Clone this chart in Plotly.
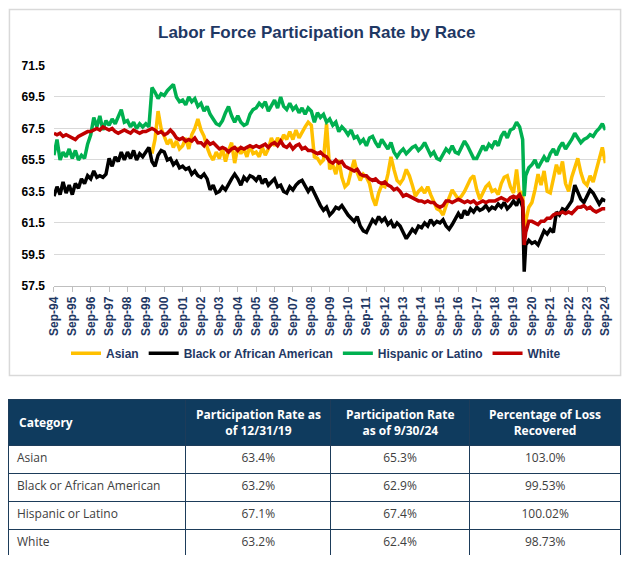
import plotly.graph_objects as go
import pandas as pd

TITLE = "Labor Force Participation Rate by Race"
SERIES_NAMES = ["Asian", "Black or African American", "Hispanic or Latino", "White"]
SERIES_COLORS = ["#FFC000", "#000000", "#00B050", "#C00000"]

# Observation dates: every two months Sep-94 ... Sep-24, plus Apr-20
DATES = sorted(list(pd.date_range("1994-09-01", "2024-09-01", freq="2MS"))
               + [pd.Timestamp("2020-04-01")])

TICK_YEARS = list(range(1994, 2025))
TICK_LABELS = ["Sep-94", "Sep-95", "Sep-96", "Sep-97", "Sep-98", "Sep-99", "Sep-00",
               "Sep-01", "Sep-02", "Sep-03", "Sep-04", "Sep-05", "Sep-06", "Sep-07",
               "Sep-08", "Sep-09", "Sep-10", "Sep-11", "Sep-12", "Sep-13", "Sep-14",
               "Sep-15", "Sep-16", "Sep-17", "Sep-18", "Sep-19", "Sep-20", "Sep-21",
               "Sep-22", "Sep-23", "Sep-24"]

ASIAN = [None] * 32 + [
    65.9, 66.8, 68.6, 67.5,
    67.0, 66.5, 66.8, 66.3, 66.7, 66.2,
    66.4, 66.9, 66.2, 67.1, 67.5, 68.1,
    67.4, 67.0, 66.3, 65.8, 65.5, 66.0,
    65.6, 66.2, 65.4, 66.1, 66.6, 65.3,
    66.3, 65.9, 66.2, 65.7, 66.4, 65.9,
    66.0, 65.7, 66.3, 65.8, 66.2, 66.9,
    66.4, 66.9, 66.6, 67.1, 66.8, 67.3,
    66.8, 67.4, 66.9, 67.3, 67.6, 67.9,
    67.7, 65.7, 65.6, 65.3, 65.5, 67.8,
    64.9, 65.2, 64.6, 65.5, 64.4, 63.8,
    64.0, 64.8, 65.5, 64.7, 64.2, 64.6,
    64.4, 64.0, 63.1, 62.6, 63.4, 63.9,
    63.8, 64.6, 65.7, 64.9, 64.2, 64.0,
    64.3, 64.9, 64.5, 63.9, 63.2, 63.5,
    63.7, 63.4, 63.8, 63.3, 62.8, 62.4,
    62.3, 62.0, 62.6, 63.1, 63.6, 63.3,
    63.0, 63.2, 63.5, 63.9, 64.3, 64.5,
    63.6, 63.0, 63.4, 63.8, 64.0, 63.5,
    63.6, 63.3, 64.0, 64.4, 64.5, 63.8,
    63.4, 64.9, 63.2, 63.5, 60.8, 61.6, 62.5,
    62.8, 63.6, 64.6, 63.9, 64.8, 63.5,
    63.4, 64.3, 65.2, 64.6, 65.4, 64.0,
    63.5, 64.4, 65.0, 65.6, 64.7, 64.1,
    63.9, 64.5, 64.1, 64.8, 65.6, 66.3,
    65.3,
]

BLACK = [
    63.2, 63.8, 63.3, 64.1, 63.4, 63.9,
    63.3, 64.0, 63.7, 64.3, 64.0, 64.5,
    64.3, 64.8, 64.4, 64.5, 64.4, 64.6,
    65.6, 65.1, 65.7, 65.4, 66.0, 65.5,
    66.0, 65.6, 66.1, 65.5, 65.9, 65.7,
    66.0, 66.3, 65.4, 65.1, 65.8, 66.1,
    66.0, 65.5, 65.6, 65.2, 65.4, 65.0,
    65.1, 64.9, 65.0, 64.6, 64.8, 64.5,
    64.4, 64.6, 64.3, 63.6, 63.9, 63.4,
    63.5, 63.8, 63.6, 64.0, 64.3, 64.6,
    64.3, 63.9, 64.4, 64.2, 64.5, 64.4,
    64.2, 64.5, 64.0, 64.3, 63.9, 64.1,
    64.3, 63.8, 63.9, 63.5, 63.4, 63.8,
    63.6, 63.9, 64.1, 64.2, 63.9, 63.5,
    63.8, 63.4, 62.9, 62.6, 62.3, 62.5,
    62.0, 62.2, 62.5, 62.4, 62.6, 62.3,
    62.0, 61.8, 61.6, 61.9, 61.3, 61.0,
    60.9, 61.3, 61.7, 61.5, 61.9, 61.6,
    61.8, 61.4, 61.6, 61.2, 61.5, 61.3,
    60.9, 60.5, 60.8, 61.1, 60.9, 61.3,
    61.2, 61.5, 61.3, 61.7, 61.4, 61.6,
    61.5, 61.7, 61.3, 61.1, 61.4, 61.8,
    62.1, 61.8, 62.3, 62.0, 62.4, 62.2,
    62.5, 62.3, 62.4, 62.6, 62.3, 62.5,
    62.4, 62.7, 62.5, 62.8, 62.4, 62.6,
    62.9, 62.6, 63.1, 62.5, 58.4, 60.1, 60.4,
    60.2, 60.3, 60.1, 60.5, 61.0, 60.8,
    61.1, 60.9, 62.2, 62.0, 62.4, 62.3,
    62.6, 62.9, 63.9, 63.4, 63.0, 62.8,
    63.2, 63.6, 63.4, 63.1, 62.7, 63.0,
    62.9,
]

HISPANIC = [
    65.8, 66.8, 65.5, 66.0, 65.7, 66.2,
    65.6, 66.1, 65.5, 65.8, 65.6, 66.5,
    67.1, 68.2, 67.6, 68.3, 67.4, 68.0,
    67.7, 68.1, 67.8, 68.3, 68.7, 67.9,
    68.0, 67.6, 67.9, 67.5, 67.8, 67.6,
    67.8, 67.6, 70.1, 69.8, 69.4, 69.7,
    69.6, 69.9, 70.1, 70.3, 69.5, 69.2,
    69.3, 69.0, 69.5, 69.2, 69.4, 68.9,
    69.1, 68.6, 68.9, 68.4, 68.1, 67.8,
    67.7, 68.0, 68.5, 68.9, 68.3, 67.9,
    68.3, 67.9, 67.7, 67.8, 68.4, 68.7,
    68.8, 69.1, 68.9, 69.2, 68.6, 69.0,
    69.3, 68.8, 69.5, 68.9, 68.7, 69.1,
    68.7, 68.9, 68.5, 68.8, 68.4, 68.8,
    68.6, 67.9, 68.5, 68.2, 68.4, 67.9,
    68.1, 67.7, 67.9, 67.3, 67.6, 67.4,
    67.1, 67.4, 66.9, 67.0, 66.6, 66.8,
    66.4, 66.9, 67.0, 66.6, 66.3, 66.8,
    66.5, 66.2, 66.6, 66.0, 65.7, 66.0,
    66.2, 65.9, 66.1, 66.3, 66.4, 66.1,
    66.3, 66.6, 66.2, 65.8, 66.0, 65.6,
    65.5, 65.9, 66.2, 66.0, 66.4, 66.0,
    65.9, 66.3, 66.7, 66.4, 66.0, 65.6,
    65.6, 66.0, 66.4, 66.1, 66.5, 66.3,
    66.7, 66.4, 67.0, 67.3, 66.9, 67.4,
    67.5, 67.9, 67.6, 66.8, 63.2, 64.5, 65.0,
    65.2, 65.5, 65.0, 65.4, 65.7, 65.4,
    65.9, 66.2, 65.8, 66.3, 66.6, 66.2,
    66.5, 66.8, 67.2, 66.9, 66.6, 66.8,
    66.9, 67.1, 67.0, 67.3, 67.5, 67.8,
    67.4,
]

WHITE = [
    67.2, 67.1, 67.2, 67.0, 67.1, 67.0,
    66.9, 66.8, 67.0, 67.1, 67.2, 67.3,
    67.3, 67.4, 67.5, 67.4, 67.6, 67.5,
    67.4, 67.5, 67.3, 67.2, 67.3, 67.4,
    67.3, 67.2, 67.4, 67.3, 67.2, 67.3,
    67.3, 67.4, 67.5, 67.4, 67.2, 67.3,
    67.1, 67.2, 67.4, 67.2, 66.9, 66.8,
    66.9, 66.7, 66.8, 66.7, 66.9, 66.6,
    66.6, 66.4, 66.7, 66.5, 66.6, 66.4,
    66.2, 66.3, 66.2, 66.0, 66.2, 66.3,
    66.1, 66.3, 66.2, 66.3, 66.4, 66.3,
    66.4, 66.3, 66.4, 66.5, 66.3, 66.5,
    66.6, 66.4, 66.7, 66.4, 66.3, 66.5,
    66.2, 66.4, 66.5, 66.2, 66.3, 66.1,
    66.1, 66.0, 65.9, 66.0, 65.8, 65.7,
    65.4, 65.3, 65.5, 65.3, 65.4, 65.1,
    65.0, 64.9, 64.8, 64.9, 64.6, 64.5,
    64.5, 64.3, 64.2, 64.3, 64.1, 64.0,
    64.1, 63.9, 63.8, 63.6, 63.7, 63.5,
    63.2, 63.3, 63.2, 63.1, 63.0, 62.9,
    62.9, 62.8, 62.9, 62.8, 62.8, 62.6,
    62.5, 62.6, 62.9, 62.9, 62.8, 62.9,
    63.0, 62.9, 62.8, 62.9, 62.8, 62.9,
    62.7, 62.8, 62.9, 62.8, 62.9, 62.9,
    62.9, 63.0, 63.1, 63.0, 62.9, 63.1,
    63.2, 63.1, 63.3, 62.9, 60.1, 60.9, 61.6,
    61.6, 61.5, 61.4, 61.6, 61.6, 61.8,
    61.8, 62.0, 62.1, 62.1, 62.2, 62.1,
    62.2, 62.1, 62.3, 62.5, 62.5, 62.6,
    62.4, 62.5, 62.3, 62.2, 62.3, 62.4,
    62.4,
]

SERIES = [ASIAN, BLACK, HISPANIC, WHITE]

# Table data
TABLE_HEADERS = ["Category", "Participation Rate as<br>of 12/31/19",
                 "Participation Rate<br>as of 9/30/24", "Percentage of Loss<br>Recovered"]
TABLE_CATEGORIES = ["Asian", "Black or African American", "Hispanic or Latino", "White"]
RATE_2019 = ["63.4%", "63.2%", "67.1%", "63.2%"]
RATE_2024 = ["65.3%", "62.9%", "67.4%", "62.4%"]
LOSS_RECOVERED = ["103.0%", "99.53%", "100.02%", "98.73%"]
COLUMN_WIDTHS = [181, 148, 142, 155]

W, H = 632, 563
NAVY = "#1F3864"
SANS = "Liberation Sans, Arial, sans-serif"
TABLE_FONT = "Open Sans, Noto Sans, sans-serif"
TABLE_LEFT, TABLE_RIGHT, TABLE_TOP = 2, 628, 402


def px_x(p):
    return p / W


def px_y(p):
    return 1 - p / H


fig = go.Figure()
for name, color, vals in zip(SERIES_NAMES, SERIES_COLORS, SERIES):
    fig.add_trace(go.Scatter(
        x=DATES, y=vals, mode="lines", name=name,
        line=dict(color=color, width=3.5),
        connectgaps=False,
    ))

# Header labels are drawn as annotations (so each line is centred, and
# the single-line label is vertically centred); header cells keep the fill.
fig.add_trace(go.Table(
    domain=dict(x=[px_x(TABLE_LEFT), px_x(TABLE_RIGHT)], y=[0, px_y(TABLE_TOP)]),
    columnwidth=COLUMN_WIDTHS,
    header=dict(
        values=["", "", "", ""],
        fill_color="#0F3B5E",
        line=dict(color="#1D3C5A", width=1),
        font=dict(color="white", size=12, family=TABLE_FONT),
        height=46,
    ),
    cells=dict(
        values=[TABLE_CATEGORIES, RATE_2019, RATE_2024, LOSS_RECOVERED],
        fill_color="white",
        line=dict(color="#1D3C5A", width=1),
        font=dict(color="#404040", size=12, family=TABLE_FONT),
        align=["left", "center", "center", "center"],
        height=28,
    ),
))

annotations = [dict(
    text=TITLE, xref="paper", yref="paper", x=0.5, y=px_y(26),
    xanchor="center", yanchor="middle", showarrow=False,
    font=dict(size=17, color=NAVY, family=SANS, weight="bold"),
)]
total_w = sum(COLUMN_WIDTHS)
span = TABLE_RIGHT - TABLE_LEFT
left = TABLE_LEFT
for i, (label, cw) in enumerate(zip(TABLE_HEADERS, COLUMN_WIDTHS)):
    width_px = cw / total_w * span
    if i == 0:
        ax, anchor = left + 8, "left"
    else:
        ax, anchor = left + width_px / 2, "center"
    annotations.append(dict(
        text=f"<b>{label}</b>", xref="paper", yref="paper",
        x=px_x(ax), y=px_y(426), xanchor=anchor, yanchor="middle",
        align="center", showarrow=False,
        font=dict(size=12, color="white", family=TABLE_FONT),
    ))
    left += width_px

tickvals = [f"{y}-09-01" for y in TICK_YEARS]

fig.update_layout(
    width=W, height=H,
    margin=dict(l=0, r=0, t=0, b=0),
    paper_bgcolor="white",
    plot_bgcolor="white",
    showlegend=True,
    legend=dict(
        orientation="h", x=0.5, xanchor="center", y=px_y(355), yanchor="middle",
        font=dict(size=12, color=NAVY, family=SANS, weight="bold"),
        bgcolor="rgba(0,0,0,0)",
    ),
    xaxis=dict(
        domain=[px_x(48), px_x(612)],
        type="date",
        range=["1994-09-01", "2024-09-01"],
        tickmode="array", tickvals=tickvals, ticktext=TICK_LABELS,
        tickangle=-90,
        tickfont=dict(size=12, color=NAVY, family=SANS, weight="bold"),
        ticks="outside", ticklen=5, tickcolor="#BFBFBF", tickwidth=1,
        showline=True, linecolor="#BFBFBF", linewidth=1,
        showgrid=False, zeroline=False,
        anchor="y",
    ),
    yaxis=dict(
        domain=[px_y(286), px_y(60)],
        range=[57.5, 71.5],
        tick0=57.5, dtick=2, tickformat=".1f",
        tickfont=dict(size=12, color="#000000", family=SANS, weight="bold"),
        ticklabelstandoff=8,
        gridcolor="#D9D9D9", gridwidth=1,
        showline=False, zeroline=False,
        anchor="x",
    ),
    annotations=annotations,
    shapes=[dict(
        type="rect", xref="paper", yref="paper",
        x0=px_x(2.5), x1=px_x(627.5), y0=px_y(378), y1=px_y(2.5),
        line=dict(color="#D9D9D9", width=1.5), layer="below",
    )],
)

fig.write_html("out.html", post_script="document.body.style.margin='0';")
